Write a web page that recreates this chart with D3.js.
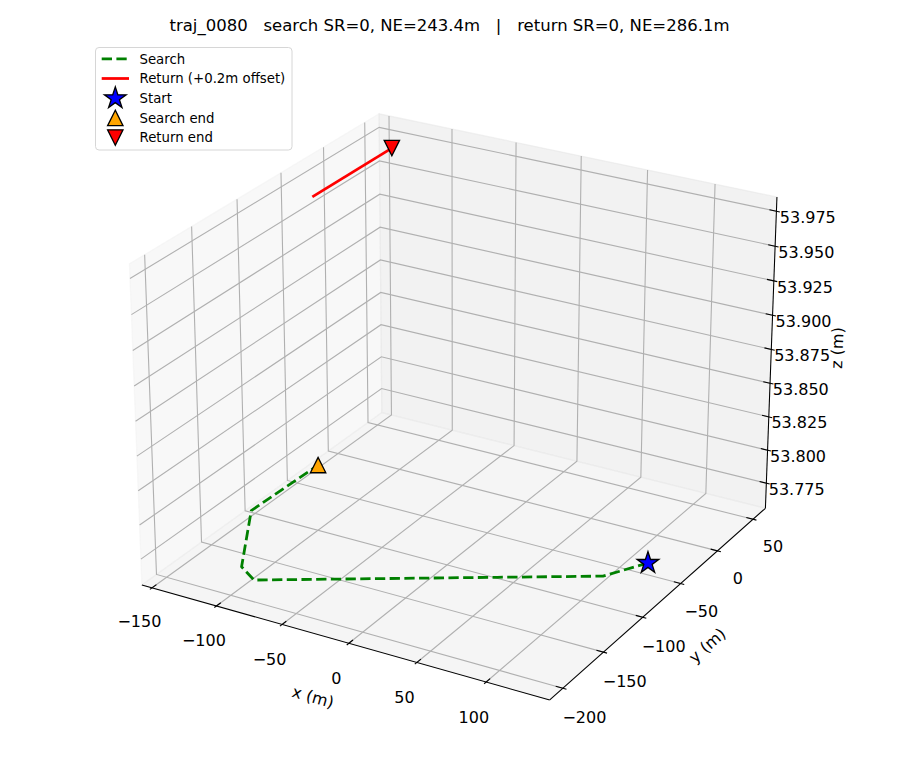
<!DOCTYPE html>
<html>
<head>
<meta charset="utf-8">
<script src="https://cdn.jsdelivr.net/npm/d3@7"></script>
<style>
  body { margin: 0; background: #fff; }
  svg { display: block; font-family: "DejaVu Sans", sans-serif; }
</style>
</head>
<body>
<div id="chart"></div>
<script>
// ── Data ──────────────────────────────────────────────────────────
const searchX = [125.8, 109.1, 50.7, -83.3, -100.3, -138.7, -136.6];
const searchY = [-59.2, -88.0, -121.3, -197.8, -187.0, -120.3, -44.4];
const searchZ = [53.7705, 53.7705, 53.7705, 53.7705, 53.7705, 53.7705, 53.7705];

const returnX = [-136.6, -136.3];
const returnY = [-44.4, 49.7];
const returnZ = [53.7705, 53.7705];
const returnOffset = 0.2;

const xTicks = [-150, -100, -50, 0, 50, 100];
const yTicks = [-200, -150, -100, -50, 0, 50];
const zTicks = [53.775, 53.800, 53.825, 53.850, 53.875, 53.900, 53.925, 53.950, 53.975];

const titleText = "traj_0080   search SR=0, NE=243.4m   |   return SR=0, NE=286.1m";
const legendLabels = ["Search", "Return (+0.2m offset)", "Start", "Search end", "Return end"];

// ── Layout ────────────────────────────────────────────────────────
const width = 900, height = 780;
const elevDeg = 25, azimDeg = -60, camDist = 10;
const projScale = 3905, projCx = 459.7, projCy = 390.8;
const tickFont = 16, legendFont = 13.3;
const searchColor = "#008000", returnColor = "#ff0000";

const returnZs = returnZ.map(z => z + returnOffset);

// limits like matplotlib: 5% margins, then panes padded by 1/48
const limits = (vals) => {
    const [mn, mx] = d3.extent(vals);
    const m = (mx - mn) * 0.05;
    const lo = mn - m, hi = mx + m;
    const pad = (hi - lo) / 48;
    return [lo - pad, hi + pad];
};
const xBox = limits(searchX.concat(returnX));
const yBox = limits(searchY.concat(returnY));
const zBox = limits(searchZ.concat(returnZs));

// box aspect (4,4,3), normalised as in mpl
let aspect = [4, 4, 3];
const aNorm = Math.hypot(...aspect);
aspect = aspect.map(a => a * 1.8294640721620434 * 25 / 24 / aNorm);

const xScale = d3.scaleLinear().domain(xBox).range([-aspect[0] / 2, aspect[0] / 2]);
const yScale = d3.scaleLinear().domain(yBox).range([-aspect[1] / 2, aspect[1] / 2]);
const zScale = d3.scaleLinear().domain(zBox).range([-aspect[2] / 2, aspect[2] / 2]);

const sxScale = d3.scaleLinear().domain([-1, 1]).range([projCx - projScale, projCx + projScale]);
const syScale = d3.scaleLinear().domain([-1, 1]).range([projCy + projScale, projCy - projScale]);

const el = elevDeg * Math.PI / 180, az = azimDeg * Math.PI / 180;
const dot = (a, b) => a[0] * b[0] + a[1] * b[1] + a[2] * b[2];
const cross = (a, b) => [a[1] * b[2] - a[2] * b[1], a[2] * b[0] - a[0] * b[2], a[0] * b[1] - a[1] * b[0]];
const wv = [Math.cos(el) * Math.cos(az), Math.cos(el) * Math.sin(az), Math.sin(el)];
let uv = cross([0, 0, 1], wv);
const uLen = Math.hypot(...uv);
uv = uv.map(c => c / uLen);
const vv = cross(wv, uv);

const project = ([x, y, z]) => {
    const p = [xScale(x), yScale(y), zScale(z)];
    const den = camDist - dot(wv, p);
    return [sxScale(dot(uv, p) / den), syScale(dot(vv, p) / den)];
};

const line2d = d3.line();
const path3d = pts => line2d(pts.map(project));

// ── SVG ───────────────────────────────────────────────────────────
const svg = d3.select("#chart")
    .append("svg")
    .attr("width", width)
    .attr("height", height);

svg.append("rect").attr("width", width).attr("height", height).attr("fill", "#fff");

const [x0, x1] = xBox, [y0, y1] = yBox, [z0, z1] = zBox;
const dx = (x1 - x0), dy = (y1 - y0), dz = (z1 - z0);

// Panes
const panes = [
    { pts: [[x0, y0, z0], [x0, y1, z0], [x0, y1, z1], [x0, y0, z1]], color: "rgba(242,242,242,0.5)" },
    { pts: [[x0, y1, z0], [x1, y1, z0], [x1, y1, z1], [x0, y1, z1]], color: "rgba(230,230,230,0.5)" },
    { pts: [[x0, y0, z0], [x1, y0, z0], [x1, y1, z0], [x0, y1, z0]], color: "rgba(236,236,236,0.5)" }
];
svg.append("g").selectAll("path")
    .data(panes)
    .join("path")
    .attr("d", d => path3d(d.pts) + "Z")
    .attr("fill", d => d.color)
    .attr("stroke", d => d.color)
    .attr("stroke-width", 1.2);

// Grid lines
const grid = [];
xTicks.forEach(t => grid.push([[t, y0, z0], [t, y1, z0], [t, y1, z1]]));
yTicks.forEach(t => grid.push([[x1, t, z0], [x0, t, z0], [x0, t, z1]]));
zTicks.forEach(t => grid.push([[x0, y0, t], [x0, y1, t], [x1, y1, t]]));
svg.append("g").selectAll("path")
    .data(grid)
    .join("path")
    .attr("d", path3d)
    .attr("fill", "none")
    .attr("stroke", "#b0b0b0")
    .attr("stroke-width", 1.1);

// Axis lines
const axisLines = [
    [[x0, y0, z0], [x1, y0, z0]],
    [[x1, y0, z0], [x1, y1, z0]],
    [[x1, y1, z0], [x1, y1, z1]]
];
svg.append("g").selectAll("path")
    .data(axisLines)
    .join("path")
    .attr("d", path3d)
    .attr("fill", "none")
    .attr("stroke", "#000")
    .attr("stroke-width", 1.05);

// Tick marks
const tickOut = 0.1 / 12, tickIn = 0.2 / 12;
const tickSegs = [];
xTicks.forEach(t => tickSegs.push([[t, y0 - tickOut * dy, z0], [t, y0 + tickIn * dy, z0]]));
yTicks.forEach(t => tickSegs.push([[x1 + tickOut * dx, t, z0], [x1 - tickIn * dx, t, z0]]));
zTicks.forEach(t => tickSegs.push([[x1 + tickOut * dx, y1, t], [x1 - tickIn * dx, y1, t]]));
svg.append("g").selectAll("path")
    .data(tickSegs)
    .join("path")
    .attr("d", path3d)
    .attr("stroke", "#000")
    .attr("stroke-width", 1.1);

// Tick labels (centred horizontally, top aligned)
const lf = 0.0506;
const intFmt = d3.format("d"), zFmt = d3.format(".3f");
const tickLabels = [];
xTicks.forEach(t => tickLabels.push({ p: [t, y0 - lf * dy, z0 - lf * dz], text: intFmt(t), dy: "0.9em" }));
yTicks.forEach(t => tickLabels.push({ p: [x1 + lf * dx, t, z0 - lf * dz], text: intFmt(t), dy: "0.8em" }));
zTicks.forEach(t => tickLabels.push({ p: [x1 + lf * dx, y1 + lf * dy, t], text: zFmt(t), dy: "0.95em" }));
svg.append("g").selectAll("text")
    .data(tickLabels)
    .join("text")
    .attr("x", d => project(d.p)[0])
    .attr("y", d => project(d.p)[1])
    .attr("dy", d => d.dy)
    .attr("text-anchor", "middle")
    .attr("font-size", tickFont)
    .attr("fill", "#000")
    .text(d => d.text);

// Axis labels
const gf = 0.11;
const edgeAngle = (a, b) => {
    const pa = project(a), pb = project(b);
    let ang = Math.atan2(pb[1] - pa[1], pb[0] - pa[0]) * 180 / Math.PI;
    if (ang > 90) ang -= 180;
    if (ang < -90) ang += 180;
    return ang;
};
const axisLabels = [
    { p: [(x0 + x1) / 2, y0 - gf * dy, z0 - gf * dz], ang: edgeAngle([x0, y0, z0], [x1, y0, z0]), text: "x (m)" },
    { p: [x1 + gf * dx, (y0 + y1) / 2, z0 - gf * dz], ang: edgeAngle([x1, y0, z0], [x1, y1, z0]), text: "y (m)" },
    { p: [x1 + gf * dx, y1 + gf * dy, (z0 + z1) / 2], ang: edgeAngle([x1, y1, z0], [x1, y1, z1]), text: "z (m)" }
];
svg.append("g").selectAll("text")
    .data(axisLabels)
    .join("text")
    .attr("transform", d => {
        const [px, py] = project(d.p);
        return `translate(${px},${py}) rotate(${d.ang})`;
    })
    .attr("dy", "0.3em")
    .attr("text-anchor", "middle")
    .attr("font-size", tickFont)
    .text(d => d.text);

// Trajectories
const searchPts = searchX.map((x, i) => [x, searchY[i], searchZ[i]]);
const returnPts = returnX.map((x, i) => [x, returnY[i], returnZs[i]]);

svg.append("path")
    .attr("d", path3d(searchPts))
    .attr("fill", "none")
    .attr("stroke", searchColor)
    .attr("stroke-width", 2.78)
    .attr("stroke-dasharray", "10.3,4.4")
    .attr("stroke-linejoin", "round");

svg.append("path")
    .attr("d", path3d(returnPts))
    .attr("fill", "none")
    .attr("stroke", returnColor)
    .attr("stroke-width", 2.78)
    .attr("stroke-linecap", "square")
    .attr("stroke-linejoin", "round");

// Markers
const starPath = r => {
    const pts = d3.range(10).map(i => {
        const rr = i % 2 === 0 ? r : r * 0.381966;
        const a = Math.PI / 2 + i * Math.PI / 5;
        return [rr * Math.cos(a), -rr * Math.sin(a)];
    });
    return "M" + pts.join("L") + "Z";
};
const triUp = h => `M0,${-h}L${-h},${h}L${h},${h}Z`;
const triDown = h => `M0,${h}L${-h},${-h}L${h},${-h}Z`;
const starR = 11.4, triH = 7.7;

const markers = [
    { p: searchPts[0], d: starPath(starR), fill: "#0000ff" },
    { p: searchPts[searchPts.length - 1], d: triUp(triH), fill: "#ffa500" },
    { p: returnPts[returnPts.length - 1], d: triDown(triH), fill: "#ff0000" }
];
svg.append("g").selectAll("path")
    .data(markers)
    .join("path")
    .attr("transform", d => `translate(${project(d.p)})`)
    .attr("d", d => d.d)
    .attr("fill", d => d.fill)
    .attr("stroke", "#000")
    .attr("stroke-width", 1.3)
    .attr("stroke-linejoin", "miter");

// Title
svg.append("text")
    .attr("x", 449.5)
    .attr("y", 31)
    .attr("text-anchor", "middle")
    .attr("font-size", 16.5)
    .style("white-space", "pre")
    .text(titleText);

// Legend
const legend = svg.append("g");
legend.append("rect")
    .attr("x", 95.5).attr("y", 47.5)
    .attr("width", 196.5).attr("height", 102.5)
    .attr("rx", 3.5)
    .attr("fill", "rgba(255,255,255,0.8)")
    .attr("stroke", "#d6d6d6")
    .attr("stroke-width", 1);

const rowY = [58.8, 78.5, 98.3, 117.9, 137.5];
const handleX0 = 101.7, handleX1 = 129, handleCx = 115.3, textX = 139.5;

legend.append("line")
    .attr("x1", handleX0).attr("x2", handleX1)
    .attr("y1", rowY[0]).attr("y2", rowY[0])
    .attr("stroke", searchColor).attr("stroke-width", 2.78)
    .attr("stroke-dasharray", "10.3,4.4");
legend.append("line")
    .attr("x1", handleX0).attr("x2", handleX1)
    .attr("y1", rowY[1]).attr("y2", rowY[1])
    .attr("stroke", returnColor).attr("stroke-width", 2.78);

const legendMarkers = [
    { row: 2, d: starPath(starR), fill: "#0000ff" },
    { row: 3, d: triUp(triH), fill: "#ffa500" },
    { row: 4, d: triDown(triH), fill: "#ff0000" }
];
legend.selectAll("path")
    .data(legendMarkers)
    .join("path")
    .attr("transform", d => `translate(${handleCx},${rowY[d.row]})`)
    .attr("d", d => d.d)
    .attr("fill", d => d.fill)
    .attr("stroke", "#000")
    .attr("stroke-width", 1.3);

legend.selectAll("text")
    .data(legendLabels)
    .join("text")
    .attr("x", textX)
    .attr("y", (d, i) => rowY[i])
    .attr("dy", "0.36em")
    .attr("font-size", legendFont)
    .text(d => d);
</script>
</body>
</html>
